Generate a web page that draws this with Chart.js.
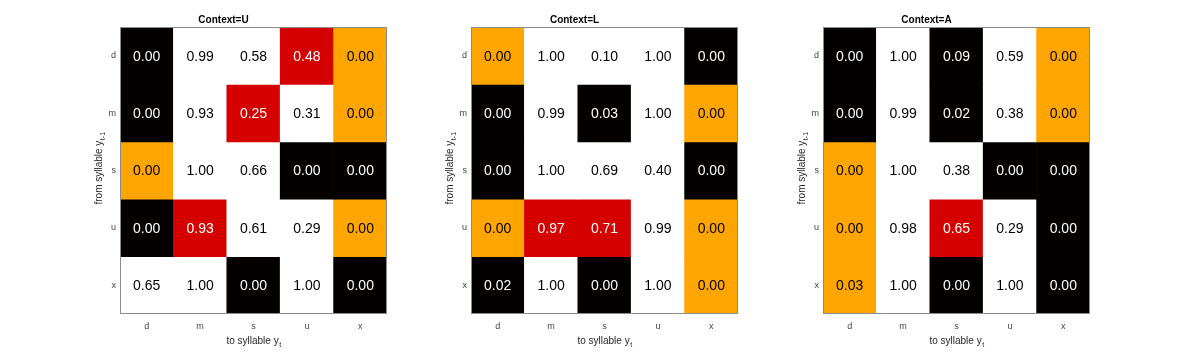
<!DOCTYPE html>
<html>
<head>
<meta charset="utf-8">
<style>
  body { margin: 0; background: #fff; width: 1177px; height: 354px; position: relative; overflow: hidden; }
  canvas { position: absolute; top: 0; }
</style>
</head>
<body>
<canvas id="cU" width="340" height="354" style="left:60px"></canvas>
<canvas id="cL" width="340" height="354" style="left:411px"></canvas>
<canvas id="cA" width="340" height="354" style="left:763px"></canvas>

<script src="https://cdn.jsdelivr.net/npm/chart.js"></script>
<script>
const syllables = ['d', 'm', 's', 'u', 'x'];
const contexts = ['U', 'L', 'A'];

// transition values, rows = from syllable, columns = to syllable
const valuesU = [
  [0.00, 0.99, 0.58, 0.48, 0.00],
  [0.00, 0.93, 0.25, 0.31, 0.00],
  [0.00, 1.00, 0.66, 0.00, 0.00],
  [0.00, 0.93, 0.61, 0.29, 0.00],
  [0.65, 1.00, 0.00, 1.00, 0.00]
];
const valuesL = [
  [0.00, 1.00, 0.10, 1.00, 0.00],
  [0.00, 0.99, 0.03, 1.00, 0.00],
  [0.00, 1.00, 0.69, 0.40, 0.00],
  [0.00, 0.97, 0.71, 0.99, 0.00],
  [0.02, 1.00, 0.00, 1.00, 0.00]
];
const valuesA = [
  [0.00, 1.00, 0.09, 0.59, 0.00],
  [0.00, 0.99, 0.02, 0.38, 0.00],
  [0.00, 1.00, 0.38, 0.00, 0.00],
  [0.00, 0.98, 0.65, 0.29, 0.00],
  [0.03, 1.00, 0.00, 1.00, 0.00]
];

// cell category: K, W, O, R
const groupsU = ['KWWRO', 'KWRWO', 'OWWKK', 'KRWWO', 'WWKWK'];
const groupsL = ['OWWWK', 'KWKWO', 'KWWWK', 'ORRWO', 'KWKWO'];
const groupsA = ['KWKWO', 'KWKWO', 'OWWKK', 'OWRWK', 'OWKWK'];

const fill = { K: '#050000', W: '#ffffff', O: '#ffa500', R: '#d50000' };
const ink = { K: '#ffffff', W: '#000000', O: '#000000', R: '#ffffff' };
const FONT = "'Liberation Sans', Arial, Helvetica, sans-serif";

const cellText = {
  id: 'cellText',
  afterDatasetsDraw(chart) {
    const ctx = chart.ctx;
    const g = chart.config.options.plugins.cellText;
    ctx.save();
    ctx.font = '14px ' + FONT;
    ctx.textAlign = 'center';
    ctx.textBaseline = 'middle';
    chart.data.datasets.forEach((ds, r) => {
      chart.getDatasetMeta(r).data.forEach((el, c) => {
        const code = g.groups[r][c];
        ctx.fillStyle = ink[code];
        ctx.fillText(g.values[r][c].toFixed(2), el.x, (el.y + el.base) / 2 + 1);
      });
    });
    const a = chart.chartArea;
    ctx.strokeStyle = '#8c8c8c';
    ctx.lineWidth = 1;
    ctx.strokeRect(Math.round(a.left) + 0.5, Math.round(a.top) + 0.5,
      Math.round(a.right - a.left) - 1, Math.round(a.bottom - a.top) - 1);

    // axis titles with subscripts
    ctx.fillStyle = '#262626';
    ctx.textBaseline = 'alphabetic';
    const cx = (a.left + a.right) / 2;
    const main = 'to syllable y';
    ctx.font = '10px ' + FONT;
    const w1 = ctx.measureText(main).width;
    ctx.font = '7px ' + FONT;
    const w2 = ctx.measureText('t').width;
    let x0 = cx - (w1 + w2) / 2;
    ctx.textAlign = 'left';
    ctx.font = '10px ' + FONT;
    ctx.fillText(main, x0, 344);
    ctx.font = '7px ' + FONT;
    ctx.fillText('t', x0 + w1 + 0.5, 347);

    ctx.translate(42, (a.top + a.bottom) / 2 - 2);
    ctx.rotate(-Math.PI / 2);
    const mainY = 'from syllable y';
    ctx.font = '10px ' + FONT;
    const w3 = ctx.measureText(mainY).width;
    ctx.font = '7px ' + FONT;
    const w4 = ctx.measureText('t-1').width;
    x0 = -(w3 + w4) / 2;
    ctx.font = '10px ' + FONT;
    ctx.fillText(mainY, x0, 0);
    ctx.font = '7px ' + FONT;
    ctx.fillText('t-1', x0 + w3 + 0.5, 3);
    ctx.restore();
  }
};

function drawMatrix(id, name, values, groups) {
  const datasets = syllables.map((row, r) => ({
    label: row,
    data: syllables.map(() => [r, r + 1]),
    backgroundColor: syllables.map((_, c) => fill[groups[r][c]]),
    borderWidth: 0,
    grouped: false,
    categoryPercentage: 1,
    barPercentage: 1
  }));
  new Chart(document.getElementById(id), {
    type: 'bar',
    data: { labels: syllables, datasets },
    plugins: [cellText],
    options: {
      responsive: false,
      animation: false,
      devicePixelRatio: 1,
      layout: { padding: { left: 0, right: 13, top: 0, bottom: 0 } },
      plugins: {
        legend: { display: false },
        tooltip: { enabled: false },
        title: {
          display: true,
          text: 'Context=' + name,
          color: '#000',
          font: { family: FONT, size: 10, weight: 'bold', lineHeight: 1.2 },
          padding: { top: 14, bottom: 1 }
        },
        cellText: { values, groups }
      },
      scales: {
        x: {
          grid: { display: false, drawTicks: false },
          border: { display: false },
          ticks: { color: '#444', font: { family: FONT, size: 9 }, padding: 7 },
          afterFit(s) { s.height = 40; }
        },
        y: {
          min: 0, max: 5, reverse: true,
          grid: { display: false, drawTicks: false },
          border: { display: false },
          afterBuildTicks(s) { s.ticks = syllables.map((_, i) => ({ value: i + 0.5 })); },
          ticks: {
            color: '#444', font: { family: FONT, size: 9 }, padding: 4,
            callback: (v, i) => syllables[i]
          },
          afterFit(s) { s.width = 60; }
        }
      }
    }
  });
}

drawMatrix('cU', contexts[0], valuesU, groupsU);
drawMatrix('cL', contexts[1], valuesL, groupsL);
drawMatrix('cA', contexts[2], valuesA, groupsA);
</script>
</body>
</html>
